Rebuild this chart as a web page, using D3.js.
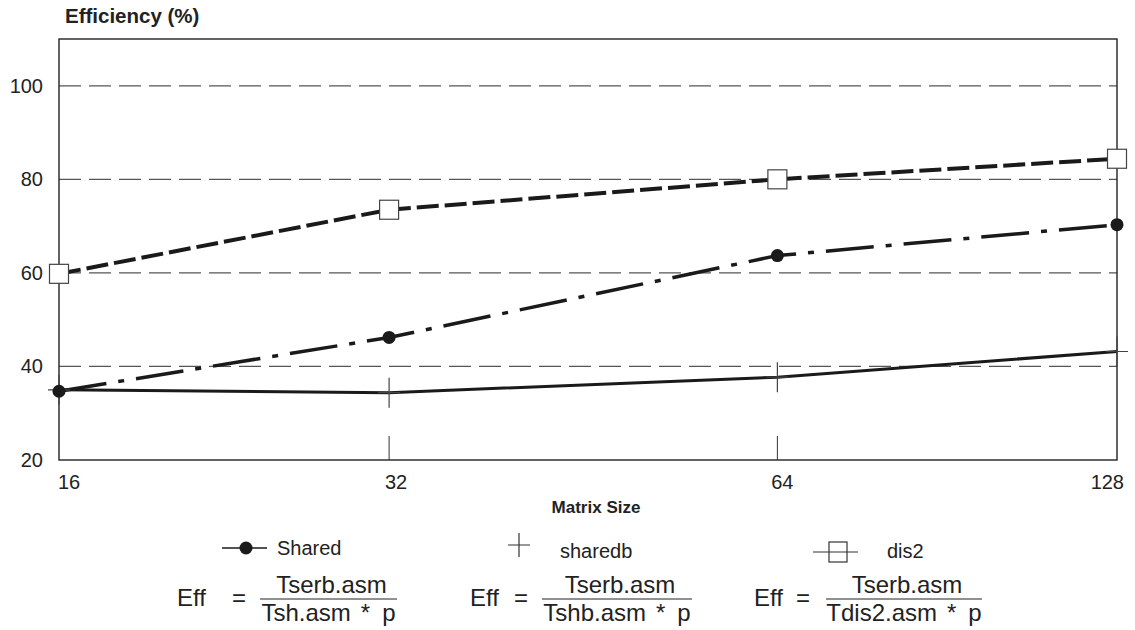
<!DOCTYPE html>
<html>
<head>
<meta charset="utf-8">
<script src="https://cdn.jsdelivr.net/npm/d3@7"></script>
<style>
  body { margin: 0; background: #fff; }
  text { font-family: "Liberation Sans", Arial, sans-serif; fill: #222; }
</style>
</head>
<body>
<svg id="chart" width="1135" height="630"></svg>
<script>
  // data
  const matrixSizes = [16, 32, 64, 128];
  const sharedValues = [34.7, 46.2, 63.7, 70.3];
  const sharedbValues = [35.0, 34.4, 37.7, 43.2];
  const dis2Values = [59.8, 73.5, 80.0, 84.4];
  const yTicks = [20, 40, 60, 80, 100];
  const gridValues = [40, 60, 80, 100];

  const svg = d3.select('#chart');
  const margin = { left: 59, top: 39, right: 18, bottom: 170 };
  const width = 1135 - margin.left - margin.right;
  const height = 630 - margin.top - margin.bottom;

  const g = svg.append('g').attr('transform', `translate(${margin.left},${margin.top})`);

  // x positions are not evenly spaced in the original
  const x = d3.scaleLinear()
    .domain(matrixSizes)
    .range([0, 0.312, 0.679, 1].map(f => f * width));
  const y = d3.scaleLinear().domain([20, 110]).range([height, 0]);

  // grid
  g.selectAll('.grid')
    .data(gridValues)
    .join('line')
    .attr('class', 'grid')
    .attr('x1', 0)
    .attr('x2', width)
    .attr('y1', d => y(d))
    .attr('y2', d => y(d))
    .attr('stroke', '#555')
    .attr('stroke-width', 1.2)
    .attr('stroke-dasharray', '22,8');

  // frame
  g.append('rect')
    .attr('width', width)
    .attr('height', height)
    .attr('fill', 'none')
    .attr('stroke', '#222')
    .attr('stroke-width', 1.4);

  // x ticks (inner)
  g.selectAll('.xtick')
    .data(matrixSizes.slice(1, 3))
    .join('line')
    .attr('x1', d => x(d))
    .attr('x2', d => x(d))
    .attr('y1', height)
    .attr('y2', height - 24)
    .attr('stroke', '#333')
    .attr('stroke-width', 1);

  // y labels
  g.selectAll('.ylab')
    .data(yTicks)
    .join('text')
    .attr('x', -16)
    .attr('y', d => y(d) + 7)
    .attr('text-anchor', 'end')
    .attr('font-size', 20)
    .text(d => d);

  // x labels
  g.selectAll('.xlab')
    .data(matrixSizes)
    .join('text')
    .attr('x', (d, i) => x(d) + [-1, 7, 5, 7][i])
    .attr('y', height + 29)
    .attr('text-anchor', (d, i) => i === 0 ? 'start' : (i === 3 ? 'end' : 'middle'))
    .attr('font-size', 20)
    .text(d => d);

  svg.append('text')
    .attr('x', 65)
    .attr('y', 23)
    .attr('font-size', 20.5)
    .attr('font-weight', 'bold')
    .text('Efficiency (%)');

  svg.append('text')
    .attr('x', 596)
    .attr('y', 513)
    .attr('text-anchor', 'middle')
    .attr('font-size', 17)
    .attr('font-weight', 'bold')
    .text('Matrix Size');

  const line = d3.line().x((d, i) => x(matrixSizes[i])).y(d => y(d));

  // sharedb - solid
  g.append('path')
    .datum(sharedbValues)
    .attr('d', line)
    .attr('fill', 'none')
    .attr('stroke', '#1a1a1a')
    .attr('stroke-width', 3);

  // shared - dash dot
  g.append('path')
    .datum(sharedValues)
    .attr('d', line)
    .attr('fill', 'none')
    .attr('stroke', '#1a1a1a')
    .attr('stroke-width', 3.5)
    .attr('stroke-dasharray', '48,12,6,12');

  // dis2 - dashed
  g.append('path')
    .datum(dis2Values)
    .attr('d', line)
    .attr('fill', 'none')
    .attr('stroke', '#1a1a1a')
    .attr('stroke-width', 4)
    .attr('stroke-dasharray', '22,6');

  // markers
  g.selectAll('.plus')
    .data(sharedbValues)
    .join('path')
    .attr('transform', (d, i) => `translate(${x(matrixSizes[i])},${y(d)})`)
    .attr('d', 'M-11,0H11M0,-15V15')
    .attr('stroke', '#444')
    .attr('stroke-width', 1.2);

  g.selectAll('.dot')
    .data(sharedValues)
    .join('circle')
    .attr('cx', (d, i) => x(matrixSizes[i]))
    .attr('cy', d => y(d))
    .attr('r', 6.5)
    .attr('fill', '#1a1a1a');

  g.selectAll('.sq')
    .data(dis2Values)
    .join('rect')
    .attr('x', (d, i) => x(matrixSizes[i]) - 9.5)
    .attr('y', d => y(d) - 9.5)
    .attr('width', 19)
    .attr('height', 19)
    .attr('fill', '#fff')
    .attr('stroke', '#444')
    .attr('stroke-width', 1.2);

  // legend
  const lg = svg.append('g');
  lg.append('line').attr('x1', 222).attr('x2', 267).attr('y1', 548).attr('y2', 548)
    .attr('stroke', '#1a1a1a').attr('stroke-width', 1.5);
  lg.append('circle').attr('cx', 246).attr('cy', 548).attr('r', 6.5).attr('fill', '#1a1a1a');
  lg.append('text').attr('x', 277).attr('y', 555).attr('font-size', 20).text('Shared');

  lg.append('path').attr('d', 'M508,545H530M519,533V557')
    .attr('stroke', '#333').attr('stroke-width', 1.2);
  lg.append('text').attr('x', 560).attr('y', 558).attr('font-size', 20).text('sharedb');

  lg.append('line').attr('x1', 813).attr('x2', 858).attr('y1', 552).attr('y2', 552)
    .attr('stroke', '#333').attr('stroke-width', 1.2);
  lg.append('rect').attr('x', 829).attr('y', 542).attr('width', 18).attr('height', 20)
    .attr('fill', 'none').attr('stroke', '#333').attr('stroke-width', 1.2);
  lg.append('text').attr('x', 887).attr('y', 558).attr('font-size', 20).text('dis2');

  // formulas
  const formulas = [
    { eff: 177, eq: 232, x1: 260, x2: 397, den: 'Tsh.asm' },
    { eff: 470, eq: 514, x1: 542, x2: 692, den: 'Tshb.asm' },
    { eff: 754, eq: 796, x1: 826, x2: 982, den: 'Tdis2.asm' }
  ];
  formulas.forEach(f => {
    lg.append('text').attr('x', f.eff).attr('y', 606).attr('font-size', 24).text('Eff');
    lg.append('text').attr('x', f.eq).attr('y', 606).attr('font-size', 24).text('=');
    lg.append('line').attr('x1', f.x1).attr('x2', f.x2).attr('y1', 599).attr('y2', 599)
      .attr('stroke', '#222').attr('stroke-width', 1.2);
    lg.append('text').attr('x', (f.x1 + f.x2) / 2 + 3).attr('y', 593)
      .attr('text-anchor', 'middle').attr('font-size', 24).text('Tserb.asm');
    const den = lg.append('text').attr('x', (f.x1 + f.x2) / 2).attr('y', 621)
      .attr('text-anchor', 'middle').attr('font-size', 24);
    den.append('tspan').text(f.den);
    den.append('tspan').attr('dx', 10).text('*');
    den.append('tspan').attr('dx', 12).text('p');
  });
</script>
</body>
</html>
